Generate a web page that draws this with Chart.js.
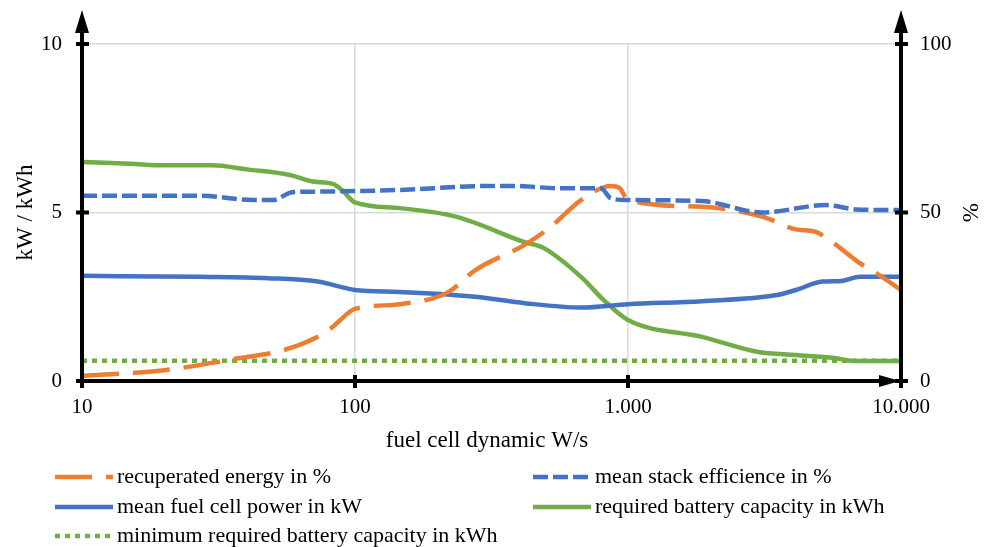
<!DOCTYPE html>
<html>
<head>
<meta charset="utf-8">
<script src="https://cdn.jsdelivr.net/npm/chart.js@4.4.1/dist/chart.umd.min.js"></script>
<style>
  body { margin: 0; background: #fff; }
  #wrap { width: 991px; height: 547px; position: relative; }
</style>
</head>
<body>
<div id="wrap"><canvas id="chart"></canvas></div>
<script>
// x positions (fuel cell dynamic W/s) and values per series
const recupX = [10, 20, 36, 55, 73, 83, 98, 110, 146, 194, 221, 276, 418, 522, 673, 867, 930, 1000, 1866, 3090, 4120, 4840, 5686, 7080, 7820, 10000];
const recupY = [1.5, 3.2, 6.5, 9.2, 13.1, 16.1, 21.1, 22.0, 22.8, 24.6, 26.5, 32.9, 40.4, 45.8, 53.7, 57.9, 57.3, 53.7, 51.7, 48.8, 45.0, 44.3, 40.8, 34.9, 32.9, 27.0];

const effX = [10, 27, 42, 50, 59, 73, 120, 146, 323, 380, 556, 795, 867, 1000, 1866, 3090, 5310, 6870, 10000];
const effY = [55.0, 55.0, 53.7, 53.7, 56.0, 56.2, 56.5, 56.7, 57.9, 57.9, 57.2, 57.2, 54.2, 53.7, 53.4, 50.0, 52.2, 50.9, 50.7];

const powerX = [10, 27, 48, 73, 100, 146, 276, 418, 673, 1000, 1866, 3514, 4120, 5160, 6050, 7080, 10000];
const powerY = [3.12, 3.09, 3.05, 2.95, 2.70, 2.64, 2.50, 2.31, 2.18, 2.28, 2.37, 2.55, 2.70, 2.95, 2.97, 3.09, 3.09];

const batX = [10, 15, 20, 30, 40, 58, 70, 83, 90, 100, 146, 236, 418, 490, 673, 815, 1000, 1866, 3008, 4120, 5686, 6870, 10000];
const batY = [6.50, 6.45, 6.40, 6.40, 6.28, 6.11, 5.92, 5.85, 5.65, 5.30, 5.13, 4.87, 4.12, 3.95, 3.09, 2.40, 1.81, 1.31, 0.86, 0.77, 0.68, 0.59, 0.59];

const minBatX = [10, 10000];
const minBatY = [0.6, 0.6];

const xTicks = [10, 100, 1000, 10000];
const yTicks = [0, 5, 10];
const y1Ticks = [0, 50, 100];

const FONT = 'Liberation Serif';
const ORANGE = '#ED7D31', BLUE = '#4472C4', GREEN = '#70AD47', GRID = '#d9d9d9';

function pts(xs, ys) { return xs.map((x, i) => ({ x: x, y: ys[i] })); }
function fmt(v) { return String(v).replace(/\B(?=(\d{3})+(?!\d))/g, '.'); }

const datasets = [
  { label: 'recuperated energy in %', data: pts(recupX, recupY), yAxisID: 'y1',
    borderColor: ORANGE, borderDash: [37, 14], order: 2 },
  { label: 'mean stack efficience in %', data: pts(effX, effY), yAxisID: 'y1',
    borderColor: BLUE, borderDash: [15, 5], order: 1 },
  { label: 'mean fuel cell power in kW', data: pts(powerX, powerY), yAxisID: 'y',
    borderColor: BLUE, borderDash: [], order: 3 },
  { label: 'required battery capacity in kWh', data: pts(batX, batY), yAxisID: 'y',
    borderColor: GREEN, borderDash: [], order: 4 },
  { label: 'minimum required battery capacity in kWh', data: pts(minBatX, minBatY), yAxisID: 'y',
    borderColor: GREEN, borderDash: [5, 5], order: 5 }
];
datasets.forEach(d => {
  d.borderWidth = 4.5;
  d.pointRadius = 0;
  d.fill = false;
  d.cubicInterpolationMode = 'monotone';
  d.borderCapStyle = 'butt';
});

// axes with arrows, tick crosses and a two column legend
const decor = {
  id: 'decor',
  afterDatasetsDraw(chart) {
    const c = chart.ctx, a = chart.chartArea;
    const sx = chart.scales.x, sy = chart.scales.y;
    c.save();
    c.strokeStyle = '#000'; c.fillStyle = '#000'; c.lineWidth = 4; c.lineCap = 'butt';
    [a.left, a.right].forEach(x => {
      c.beginPath(); c.moveTo(x, a.bottom + 7); c.lineTo(x, a.top - 12); c.stroke();
      c.beginPath(); c.moveTo(x, a.top - 34); c.lineTo(x - 7, a.top - 11); c.lineTo(x + 7, a.top - 11); c.closePath(); c.fill();
      yTicks.forEach(v => {
        const y = sy.getPixelForValue(v);
        c.beginPath(); c.moveTo(x - 6, y); c.lineTo(x + 7, y); c.stroke();
      });
    });
    c.beginPath(); c.moveTo(a.left - 6, a.bottom); c.lineTo(a.right - 18, a.bottom); c.stroke();
    c.beginPath(); c.moveTo(a.right - 1, a.bottom); c.lineTo(a.right - 22, a.bottom - 6); c.lineTo(a.right - 22, a.bottom + 6); c.closePath(); c.fill();
    [100, 1000].forEach(v => {
      const x = sx.getPixelForValue(v);
      c.beginPath(); c.moveTo(x, a.bottom - 6); c.lineTo(x, a.bottom + 7); c.stroke();
    });

    // x axis title
    c.font = '23px "' + FONT + '"';
    c.textAlign = 'center'; c.textBaseline = 'middle';
    c.fillText('fuel cell dynamic W/s', 487, 441);

    // legend
    const colX = [55, 533], rowY = [477, 507, 536];
    c.font = '22px "' + FONT + '"';
    c.textAlign = 'left';
    chart.data.datasets.forEach((d, i) => {
      const x0 = colX[i % 2], y0 = rowY[Math.floor(i / 2)];
      c.strokeStyle = d.borderColor; c.lineWidth = 4.5;
      c.setLineDash(d.borderDash);
      c.beginPath(); c.moveTo(x0, y0); c.lineTo(x0 + 58, y0); c.stroke();
      c.setLineDash([]);
      c.fillStyle = '#000';
      c.fillText(d.label, x0 + 62, y0);
    });
    c.restore();
  }
};

new Chart(document.getElementById('chart'), {
  type: 'line',
  data: { datasets: datasets },
  plugins: [decor],
  options: {
    responsive: true,
    maintainAspectRatio: false,
    animation: false,
    layout: { padding: { top: 44, bottom: 89, left: 0, right: 0 } },
    plugins: { legend: { display: false }, tooltip: { enabled: false } },
    scales: {
      x: {
        type: 'logarithmic', min: 10, max: 10000,
        afterBuildTicks: s => { s.ticks = xTicks.map(v => ({ value: v })); },
        afterFit: s => { s.height = 77; },
        border: { display: false },
        grid: { drawTicks: false, lineWidth: 1.5,
          color: ctx => (ctx.tick && (ctx.tick.value === 100 || ctx.tick.value === 1000)) ? GRID : 'transparent' },
        ticks: { color: '#000', font: { family: FONT, size: 21 }, padding: 14, maxRotation: 0,
          callback: v => fmt(v) }
      },
      y: {
        position: 'left', min: 0, max: 10,
        afterBuildTicks: s => { s.ticks = yTicks.map(v => ({ value: v })); },
        afterFit: s => { s.width = 82; },
        border: { display: false },
        grid: { drawTicks: false, lineWidth: 1.5,
          color: ctx => (ctx.tick && ctx.tick.value > 0) ? GRID : 'transparent' },
        ticks: { color: '#000', font: { family: FONT, size: 21 }, padding: 20 },
        title: { display: true, text: 'kW / kWh', color: '#000', font: { family: FONT, size: 23 }, padding: { top: 12 } }
      },
      y1: {
        position: 'right', min: 0, max: 100,
        afterBuildTicks: s => { s.ticks = y1Ticks.map(v => ({ value: v })); },
        afterFit: s => { s.width = 90; },
        border: { display: false },
        grid: { display: false, drawTicks: false },
        ticks: { color: '#000', font: { family: FONT, size: 21 }, padding: 19 },
        title: { display: true, text: '%', color: '#000', font: { family: FONT, size: 23 }, padding: { top: 8 } }
      }
    }
  }
});
</script>
</body>
</html>
